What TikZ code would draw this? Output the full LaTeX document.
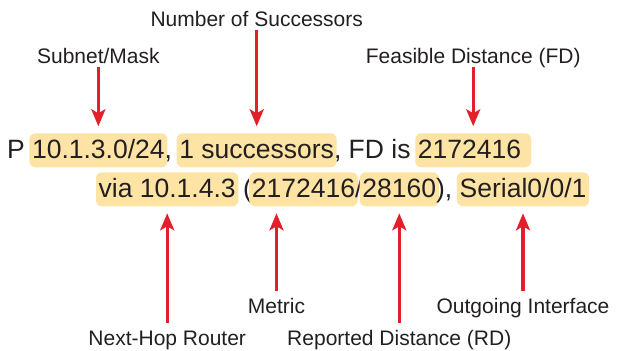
\documentclass[tikz,border=0pt]{standalone}
\usepackage{fontspec}
\setmainfont{Liberation Sans}
\usepackage{tikz}
\usetikzlibrary{positioning,arrows.meta,calc}
\definecolor{ink}    {HTML}{231F20}
\definecolor{accent} {HTML}{E2202C}
\definecolor{marker} {HTML}{FDE3A4}
\newcommand{\mainfont}{\fontsize{26.5}{30}\selectfont}
\newcommand{\tagfont}{\fontsize{21}{25}\selectfont}
\newcommand{\gap}{\kern.278em}
\tikzset{
  % --- nodes
  txt/.style = {inner sep=0pt, outer sep=0pt, font=\mainfont, text=ink,
                anchor=base west, text height=21.7pt, text depth=4.3pt},
  hl/.style  = {txt, fill=marker, rounded corners=6pt, inner xsep=2.7pt,
                outer xsep=-2.7pt, inner ysep=4pt},
  lbl/.style = {inner sep=0pt, font=\tagfont, text=ink,
                text height=15.75pt, text depth=4.2pt},
  % --- edges
  e/.style   = {-{Stealth[length=17pt,width=14pt,inset=4pt]}, line width=3.4pt,
                draw=accent, shorten >=7pt},
}
\begin{document}
\begin{tikzpicture}[x=1pt,y=1pt]
  \useasboundingbox (0,0) rectangle (617,350);
  % first line
  \node[txt] (p) at (7,191) {P\gap};
  \node[hl]  (subnet) at (p.base east) {10.1.3.0/24};
  \node[txt] (c1) at (subnet.base east) {,\gap};
  \node[hl]  (succ) at (c1.base east) {1 successors};
  \node[txt] (fdis) at (succ.base east) {, FD is\gap};
  \node[hl]  (fd) at (fdis.base east) {2172416\gap};
  % second line
  \node[hl]  (via) at (98.7,152) {via 10.1.4.3};
  \node[txt] (op) at (via.base east) {\gap(};
  \node[hl]  (metric) at (op.base east) {2172416};
  \node[txt] (sl) at (metric.base east) {/};
  \node[hl]  (rd) at (sl.base east) {28160};
  \node[txt] (cp) at (rd.base east) {),\gap};
  \node[hl]  (intf) at (cp.base east) {Serial0/0/1};

  % labels above
  \node[lbl, above=65.8pt of subnet] (subnetl) {Subnet/Mask};
  \node[lbl, above=102.8pt of succ]  (succl)   {Number of Successors};
  \node[lbl, above=65.8pt of fd]     (fdl)     {Feasible Distance (FD)};
  % labels below
  \node[lbl, below=123pt of via]                (vial)    {Next-Hop Router};
  \node[lbl, below=91pt of metric, xshift=-27pt] (metricl) {Metric};
  \node[lbl, below=123pt of rd]                 (rdl)     {Reported Distance (RD)};
  \node[lbl, below=91pt of intf]                (intfl)   {Outgoing Interface};

  \foreach \l/\n in {subnetl/subnet,succl/succ,fdl/fd} {
    \draw[e] (\l.south) -- (\l.south |- \n.north);
  }
  \foreach \l/\n in {vial/via,metricl/metric,rdl/rd,intfl/intf} {
    \draw[e, shorten <=6pt] (\l.north) -- (\l.north |- \n.south);
  }
\end{tikzpicture}
\end{document}
